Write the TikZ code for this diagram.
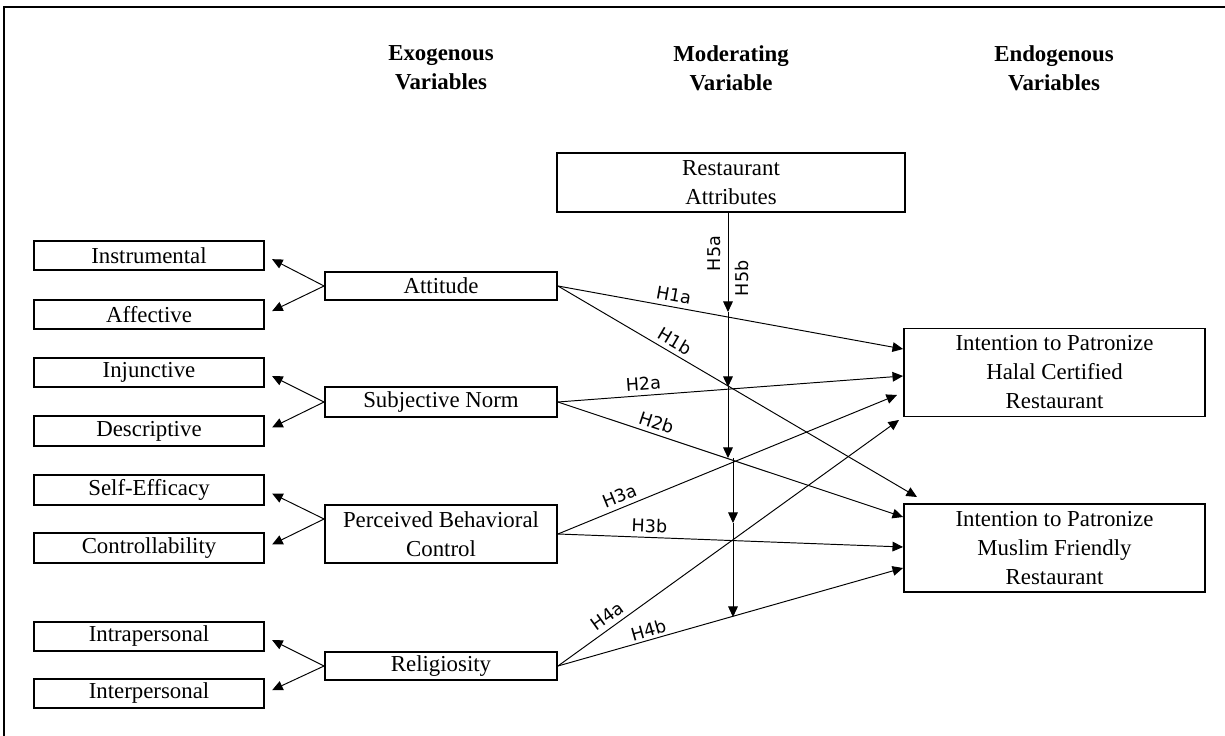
\documentclass[tikz,border=0pt]{standalone}
\usepackage{fontspec}
\setmainfont{Liberation Serif}
\newfontfamily\hypfont{DejaVu Sans}
\usetikzlibrary{arrows.meta}

\begin{document}
\begin{tikzpicture}[x=0.02cm,y=-0.02cm,
  box/.style={draw,line width=1.1pt,inner sep=0pt,align=center,font=\fontsize{13}{16.5}\selectfont},
  sbox/.style={box,minimum width=4.6cm,minimum height=0.59cm},
  mbox/.style={box,minimum width=4.64cm},
  rbox/.style={box,minimum width=6.02cm,minimum height=1.76cm},
  link/.style={-{Triangle[length=6pt,width=5.5pt]},line width=0.55pt},
  fork/.style={link,shorten >=0.16cm},
  hyp/.style={font=\hypfont\fontsize{10}{11}\selectfont,sloped,above,inner sep=2.5pt},
  heading/.style={font=\bfseries\fontsize{13}{16.5}\selectfont,align=center}]
  \useasboundingbox (0,0) rectangle (1225,736);
  \draw[line width=1.1pt] (4,736) -- (4,7) -- (1225,7);

  \node[heading] (hexo) at (441,68) {Exogenous\\Variables};
  \node[heading] (hmod) at (731,68) {Moderating\\Variable};
  \node[heading] (hend) at (1054,68) {Endogenous\\Variables};

  \node[box,minimum width=6.96cm,minimum height=1.18cm] (ra) at (731,182.5) {Restaurant\\Attributes};
  \node[sbox] (ins) at (149,255.5) {Instrumental};
  \node[mbox,minimum height=0.57cm] (att) at (441,286) {Attitude};
  \node[sbox] (aff) at (149,314.5) {Affective};
  \node[sbox] (inj) at (149,372.5) {Injunctive};
  \node[mbox,minimum height=0.6cm] (sn) at (441,402) {Subjective Norm};
  \node[sbox] (des) at (149,431) {Descriptive};
  \node[sbox] (se) at (149,490) {Self-Efficacy};
  \node[mbox,minimum height=1.16cm] (pbc) at (441,534) {Perceived Behavioral\\Control};
  \node[sbox] (con) at (149,548) {Controllability};
  \node[sbox] (intra) at (149,636.5) {Intrapersonal};
  \node[mbox,minimum height=0.57cm] (rel) at (441,666) {Religiosity};
  \node[sbox] (inter) at (149,693.5) {Interpersonal};
  \node[rbox] (hal) at (1054.5,372.5) {Intention to Patronize\\Halal Certified\\Restaurant};
  \node[rbox] (mus) at (1054.5,548) {Intention to Patronize\\Muslim Friendly\\Restaurant};

  \coordinate (pbcf) at (pbc.west |- 0,519);
  \draw[fork] (att.west) -- (ins.east);
  \draw[fork] (att.west) -- (aff.east);
  \draw[fork] (sn.west) -- (inj.east);
  \draw[fork] (sn.west) -- (des.east);
  \draw[fork] (pbcf) -- (se.east);
  \draw[fork] (pbcf) -- (con.east);
  \draw[fork] (rel.west) -- (intra.east);
  \draw[fork] (rel.west) -- (inter.east);

  \coordinate (t1a) at (hal.west |- 0,349);
  \coordinate (t2a) at (hal.west |- 0,376);
  \coordinate (t3a) at (897,395);
  \coordinate (t4a) at (899,420);
  \coordinate (t1b) at (917,497);
  \coordinate (t2b) at (mus.west |- 0,517);
  \coordinate (t3b) at (mus.west |- 0,547);
  \coordinate (t4b) at (mus.west |- 0,568);
  \draw[link] (att.east) -- node[hyp,pos=0.33] {H1a} (t1a);
  \draw[link] (att.east) -- node[hyp,pos=0.31] {H1b} (t1b);
  \draw[link] (sn.east) -- node[hyp,pos=0.25] {H2a} (t2a);
  \draw[link] (sn.east) -- node[hyp,pos=0.275] {H2b} (t2b);
  \draw[link] (pbc.east) -- node[hyp,pos=0.194] {H3a} (t3a);
  \draw[link] (pbc.east) -- node[hyp,pos=0.264] {H3b} (t3b);
  \draw[link] (rel.east) -- node[hyp,pos=0.165] {H4a} (t4a);
  \draw[link] (rel.east) -- node[hyp,pos=0.27,inner sep=1.5pt] {H4b} (t4b);

  \coordinate (m1) at (728,312);
  \coordinate (m2) at (728,387);
  \coordinate (m3) at (728,458);
  \coordinate (m3b) at (733,458);
  \coordinate (m4) at (733,523);
  \coordinate (m5) at (733,617);
  \draw[link] (ra.south -| m1) -- node[hyp,pos=0.41,sloped=false,rotate=90,anchor=south,inner sep=4pt] {H5a}
    node[hyp,pos=0.66,sloped=false,rotate=90,anchor=north,inner sep=4pt] {H5b} (m1);
  \draw[link] (m1) -- (m2);
  \draw[link] (m2) -- (m3);
  \draw[link] (m3b) -- (m4);
  \draw[link] (m4) -- (m5);
\end{tikzpicture}
\end{document}
